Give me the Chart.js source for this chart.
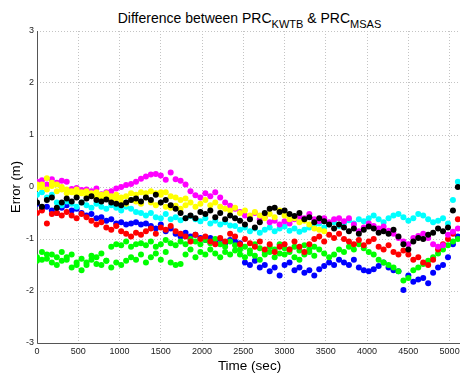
<!DOCTYPE html>
<html>
<head>
<meta charset="utf-8">
<script src="https://cdn.jsdelivr.net/npm/chart.js@4"></script>
<style>
  body { margin: 0; overflow: hidden; background: #fff; }
  #title {
    position: absolute; top: 10px; left: 37px; width: 425px;
    text-align: center; font: 14px "Liberation Sans", Arial, sans-serif;
    line-height: 16px; color: #000; white-space: nowrap;
  }
  #title sub { font-size: 11px; vertical-align: -5px; line-height: 0; }
  #wrap { position: absolute; left: 0; top: 0; width: 470px; height: 376px; }
</style>
</head>
<body>
<div id="title">Difference between PRC<sub>KWTB</sub> &amp; PRC<sub>MSAS</sub></div>
<div id="wrap"><canvas id="c"></canvas></div>
<script>
// sample times (sec), one every 60 s
const times = [
  0, 60, 120, 180, 240, 300, 360, 420, 480, 540,
  600, 660, 720, 780, 840, 900, 960, 1020, 1080, 1140,
  1200, 1260, 1320, 1380, 1440, 1500, 1560, 1620, 1680, 1740,
  1800, 1860, 1920, 1980, 2040, 2100, 2160, 2220, 2280, 2340,
  2400, 2460, 2520, 2580, 2640, 2700, 2760, 2820, 2880, 2940,
  3000, 3060, 3120, 3180, 3240, 3300, 3360, 3420, 3480, 3540,
  3600, 3660, 3720, 3780, 3840, 3900, 3960, 4020, 4080, 4140,
  4200, 4260, 4320, 4380, 4440, 4500, 4560, 4620, 4680, 4740,
  4800, 4860, 4920, 4980, 5040, 5100
];

const xTicks = [0, 500, 1000, 1500, 2000, 2500, 3000, 3500, 4000, 4500, 5000];
const yTicks = [-3, -2, -1, 0, 1, 2, 3];

// error per satellite (m); each list starts at times[start]
const magenta = [
  0.1, 0.13, 0.05, 0.15, 0.08, 0.12, 0.1, -0.04, -0.02, -0.06,
  -0.05, -0.08, -0.03, -0.14, -0.1, -0.08, -0.03, 0.0, 0.04, 0.06,
  0.1, 0.16, 0.2, 0.24, 0.25, 0.22, 0.14, 0.28, 0.15, 0.12,
  0.05, -0.08, -0.16, -0.2, -0.12, -0.18, -0.1, -0.2, -0.3, -0.36,
  -0.42, -0.48, -0.55, -0.6, -0.5, -0.62, -0.58, -0.68, -0.65, -0.72,
  -0.66, -0.7, -0.62, -0.57, -0.6, -0.52, -0.62, -0.66, -0.6, -0.68,
  -0.62, -0.6, -0.66, -0.6, -0.72, -0.85, -0.78, -0.7, -0.75, -0.8,
  -0.76, -0.84, -0.9, -0.98, -1.05, -1.1, -0.98, -0.94, -0.9, -0.98,
  -1.1, -1.15, -1.12, -0.92, -0.86, -0.8
];
const yellow1 = [
  0.05, 0.0, 0.17, 0.08, 0.05, 0.0, -0.05, -0.1, -0.15, -0.12,
  -0.18, -0.14, -0.2, -0.22, -0.18, -0.25, -0.22, -0.3, -0.32, -0.25,
  -0.28, -0.32, -0.2, -0.3, -0.35, -0.1, -0.38, -0.4, -0.36, -0.42,
  -0.35, -0.3, -0.38, -0.32, -0.25, -0.35, -0.3, -0.38, -0.42, -0.45,
  -0.4, -0.5, -0.45, -0.55, -0.48, -0.55, -0.6, -0.52, -0.58, -0.45,
  -0.55, -0.62, -0.6, -0.68, -0.65, -0.72, -0.8, -0.82, -0.85
];
const yellow2 = [
  -0.02, 0.05, -0.05, 0.02, -0.08, -0.05, -0.12, -0.08, -0.05, -0.1,
  -0.08, -0.12, -0.1, -0.15, -0.12, -0.18, -0.15, -0.2, -0.18, -0.12,
  -0.15, -0.1, -0.12, -0.08, -0.12, -0.15, -0.1, -0.18, -0.2, -0.25,
  -0.22
];
const black = [
  -0.3, -0.38, -0.25, -0.2, -0.4, -0.3, -0.22, -0.28, -0.2, -0.3,
  -0.22, -0.18, -0.25, -0.28, -0.24, -0.3, -0.32, -0.35, -0.3, -0.25,
  -0.22, -0.28, -0.2, -0.25, -0.15, -0.3, -0.25, -0.35, -0.42, -0.5,
  -0.6, -0.55, -0.6, -0.48, -0.52, -0.45, -0.58, -0.5, -0.62, -0.55,
  -0.6, -0.65, -0.72, -0.62, -0.78, -0.68, -0.5, -0.42, -0.4, -0.48,
  -0.45, -0.52, -0.56, -0.5, -0.62, -0.58, -0.68, -0.6, -0.66, -0.72,
  -0.8, -0.72, -0.78, -0.85, -0.8, -0.9, -0.82, -0.76, -0.8, -0.88,
  -0.85, -0.9, -0.82, -0.95, -1.1, -1.2, -1.05, -0.98, -1.0, -0.92,
  -0.88, -0.8, -0.85, -0.78, -0.45, 0.0
];
const cyan = [
  -0.15, -0.1, -0.2, -0.15, -0.3, -0.35, -0.28, -0.32, -0.38, -0.3,
  -0.35, -0.4, -0.32, -0.38, -0.42, -0.35, -0.4, -0.45, -0.38, -0.42,
  -0.48, -0.5, -0.55, -0.5, -0.58, -0.6, -0.52, -0.62, -0.58, -0.64,
  -0.6, -0.56, -0.62, -0.66, -0.6, -0.7, -0.65, -0.72, -0.68, -0.74,
  -0.75, -0.82, -0.78, -0.85, -0.8, -0.88, -0.82, -0.78, -0.85, -0.8,
  -0.76, -0.84, -0.8, -0.86, -0.82, -0.78, -0.75, -0.7, -0.78, -0.72,
  -0.68, -0.75, -0.7, -0.64, -0.7, -0.62, -0.66, -0.6, -0.55, -0.62,
  -0.68, -0.6, -0.55, -0.52, -0.58, -0.65, -0.6, -0.52, -0.55, -0.62,
  -0.68, -0.65, -0.6, -0.7, -0.25, 0.1
];
const blue = [
  -0.32, -0.42, -0.38, -0.45, -0.5, -0.4, -0.35, -0.45, -0.42, -0.5,
  -0.55, -0.52, -0.6, -0.58, -0.65, -0.62, -0.7, -0.68, -0.72, -0.7,
  -0.68, -0.72, -0.7, -0.75, -0.8, -0.72, -0.85, -0.8, -0.9, -0.95,
  -0.88, -0.95, -0.92, -0.98, -1.02, -0.98, -1.05, -1.0, -1.08, -1.02,
  -1.05, -1.08, -1.45, -1.5, -1.42, -1.55, -1.5, -1.62, -1.55, -1.7,
  -1.5, -1.45, -1.6, -1.55, -1.65, -1.6, -1.7, -1.58, -1.52, -1.45,
  -1.5, -1.4, -1.45, -1.5, -1.4, -1.55, -1.6, -1.62, -1.58, -1.52,
  -1.45, -1.55, -1.6, -1.62, -1.98, -1.7, -1.82, -1.78, -1.75, -1.85,
  -1.65, -1.55, -1.5, -1.35, -1.1, -0.95
];
const red = [
  -0.5, -0.45, -0.7, -0.52, -0.5, -0.55, -0.48, -0.55, -0.6, -0.52,
  -0.58, -0.65, -0.72, -0.68, -0.78, -0.82, -0.75, -0.85, -0.9, -0.95,
  -0.88, -0.92, -0.85, -0.8, -0.9, -0.78, -0.82, -0.75, -0.85, -0.9,
  -0.95, -1.05, -0.92, -1.0, -0.95, -1.05, -1.1, -0.98, -1.05, -0.9,
  -0.95, -1.1, -1.0, -1.08, -1.15, -1.05, -1.2, -1.1, -1.25, -1.15,
  -1.1, -1.2, -1.05, -1.15, -1.25, -1.1, -1.0, -0.95, -1.05, -0.92,
  -0.98, -0.9, -1.0, -1.05, -1.1, -1.02, -1.12, -1.05, -1.0, -1.15,
  -1.2, -1.12, -1.25, -1.3, -1.22, -1.3, -1.4, -1.35, -1.45, -1.5,
  -1.4, -1.2, -1.1, -1.0, -0.9, -0.62
];
const green1 = [
  -1.35, -1.4, -1.3, -1.45, -1.35, -1.25, -1.4, -1.3, -1.5, -1.38,
  -1.45, -1.32, -1.48, -1.28, -1.42, -1.55, -1.45, -1.5, -1.42, -1.35,
  -1.4, -1.3, -1.45, -1.35, -1.28, -1.4, -1.25, -1.45, -1.5, -1.48,
  -1.3, -1.2, -1.35, -1.25, -1.3, -1.2, -1.28, -1.35, -1.25, -1.3,
  -1.22, -1.3, -1.35, -1.28, -1.32, -1.4, -1.3, -1.25, -1.35, -1.28,
  -1.3, -1.2, -1.35, -1.4, -1.3, -1.25, -1.32, -1.2, -1.28, -1.35,
  -1.3, -1.2, -1.25, -1.15, -1.2, -1.1, -1.18, -1.25, -1.3, -1.4,
  -1.45, -1.5, -1.55, -1.62, -1.8, -1.75, -1.6, -1.55, -1.48, -1.42,
  -1.35, -1.28, -1.2, -1.12, -1.05, -1.0
];
const green2Start = 15; // 900 s
const green2 = [
  -1.15, -1.1, -1.12, -1.05, -1.15, -1.1, -1.08, -1.12, -1.05, -1.15,
  -1.1, -1.02, -1.08, -1.12, -1.05, -1.1, -1.0, -1.05, -1.1, -1.02,
  -1.08, -1.0, -1.1, -1.15, -1.05, -1.12, -1.2, -1.15, -1.22, -1.1,
  -1.18, -1.25, -1.15, -1.2, -1.1, -1.18, -1.25, -1.15, -1.22, -1.12,
  -1.2, -1.15
];
const green3 = [
  -1.42, -1.25, -1.38, -1.3, -1.5, -1.42, -1.35, -1.55, -1.45, -1.6,
  -1.5, -1.4, -1.35, -1.5, -1.42
];

function pts(vals, start) {
  start = start || 0;
  return vals.map((v, i) => ({ x: times[start + i], y: v }));
}

function series(vals, color, start) {
  return {
    data: pts(vals, start),
    backgroundColor: color,
    borderWidth: 0,
    pointRadius: 3,
    pointHoverRadius: 3
  };
}

// first dataset is drawn on top
const datasets = [
  series(black, "#000000"),
  series(yellow1, "#ffff00"),
  series(yellow2, "#ffff00"),
  series(magenta, "#ff00ff"),
  series(cyan, "#00ffff"),
  series(red, "#ff0000"),
  series(green2, "#00ff00", green2Start),
  series(green1, "#00ff00"),
  series(green3, "#00ff00"),
  series(blue, "#0000ff")
];

// solid left and bottom axis lines, as in the MATLAB figure
const axisLines = {
  id: "axisLines",
  beforeDatasetsDraw(chart) {
    const a = chart.chartArea, ctx = chart.ctx;
    ctx.save();
    ctx.strokeStyle = "#555";
    ctx.lineWidth = 1;
    ctx.beginPath();
    ctx.moveTo(a.left + 0.5, a.top);
    ctx.lineTo(a.left + 0.5, a.bottom + 0.5);
    ctx.lineTo(a.right, a.bottom + 0.5);
    ctx.stroke();
    ctx.restore();
  }
};

const tickFont = { family: "'Liberation Sans', Arial, sans-serif", size: 9 };
const labelFont = { family: "'Liberation Sans', Arial, sans-serif", size: 13.5 };

new Chart(document.getElementById("c"), {
  type: "scatter",
  data: { datasets: datasets },
  plugins: [axisLines],
  options: {
    responsive: true,
    maintainAspectRatio: false,
    animation: false,
    events: [],
    layout: { padding: { top: 31, right: 8, left: 0, bottom: 0 } },
    plugins: { legend: { display: false }, tooltip: { enabled: false } },
    scales: {
      x: {
        type: "linear",
        min: 0,
        max: 5150,
        afterBuildTicks: s => { s.ticks = xTicks.map(v => ({ value: v })); },
        afterFit: s => { s.height = 33; },
        ticks: { font: tickFont, color: "#222", padding: 3, maxRotation: 0, autoSkip: false, callback: v => String(v) },
        grid: { color: "#c4c4c4", drawTicks: false },
        border: { display: false, dash: [1, 2] },
        title: { display: true, text: "Time (sec)", font: labelFont, color: "#000", padding: { top: 0, bottom: 2 } }
      },
      y: {
        min: -3,
        max: 3,
        afterBuildTicks: s => { s.ticks = yTicks.map(v => ({ value: v })); },
        afterFit: s => { s.width = 37; },
        ticks: { font: tickFont, color: "#222", padding: 3, callback: v => String(v) },
        grid: { color: "#c4c4c4", drawTicks: false },
        border: { display: false, dash: [1, 2] },
        title: { display: true, text: "Error (m)", font: { family: labelFont.family, size: 13 }, color: "#000", padding: { top: 9, bottom: 0 } }
      }
    }
  }
});
</script>
</body>
</html>
